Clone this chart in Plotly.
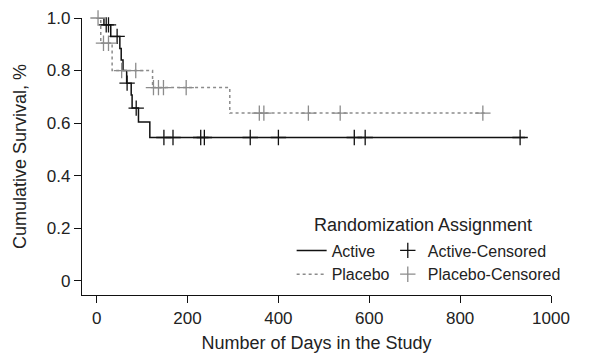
import plotly.graph_objects as go

# ---- data ----
active_event_days = [0, 16, 31, 51, 54, 58, 66, 76, 78, 92, 117]
active_event_surv = [1.0, 0.974, 0.930, 0.884, 0.840, 0.800, 0.752, 0.707, 0.657, 0.604, 0.545]
active_end_day = 943
active_cens_days = [21, 26, 45, 67, 87, 148, 168, 229, 237, 338, 400, 567, 591, 932]
active_cens_surv = [0.974, 0.974, 0.930, 0.752, 0.657, 0.545, 0.545, 0.545, 0.545, 0.545,
                    0.545, 0.545, 0.545, 0.545]

placebo_event_days = [0, 9, 34, 123, 293]
placebo_event_surv = [1.0, 0.904, 0.800, 0.735, 0.638]
placebo_end_day = 859
placebo_cens_days = [3, 15, 26, 55, 86, 125, 136, 147, 197, 358, 368, 466, 536, 850]
placebo_cens_surv = [1.0, 0.904, 0.904, 0.800, 0.800, 0.735, 0.735, 0.735, 0.735, 0.638,
                     0.638, 0.638, 0.638, 0.638]

x_ticks = [0, 200, 400, 600, 800, 1000]
y_ticks = [0, 0.2, 0.4, 0.6, 0.8, 1.0]
y_tick_labels = ["0", "0.2", "0.4", "0.6", "0.8", "1.0"]

FONT = "Liberation Sans, Arial, sans-serif"
TXT = "#222222"
GRAY = "#8c8c8c"

fig = go.Figure()

fig.add_trace(go.Scatter(
    x=active_event_days + [active_end_day],
    y=active_event_surv + [active_event_surv[-1]],
    mode="lines", line=dict(color="#111111", width=1.5, shape="hv"),
    name="Active", legend="legend", cliponaxis=False))
fig.add_trace(go.Scatter(
    x=placebo_event_days + [placebo_end_day],
    y=placebo_event_surv + [placebo_event_surv[-1]],
    mode="lines", line=dict(color=GRAY, width=1.5, dash="dot", shape="hv"),
    name="Placebo", legend="legend", cliponaxis=False))
fig.add_trace(go.Scatter(
    x=active_cens_days, y=active_cens_surv, mode="markers",
    marker=dict(symbol="cross-thin", size=11, line=dict(color="#111111", width=1.3)),
    name="Active-Censored", legend="legend2", cliponaxis=False))
fig.add_trace(go.Scatter(
    x=placebo_cens_days, y=placebo_cens_surv, mode="markers",
    marker=dict(symbol="cross-thin", size=11, line=dict(color=GRAY, width=1.3)),
    name="Placebo-Censored", legend="legend2", cliponaxis=False))

axis_common = dict(showgrid=False, zeroline=False, showline=True, linecolor="#111111",
                   linewidth=1.2, ticks="outside", ticklen=7, tickwidth=1.2,
                   tickcolor="#111111", automargin=False,
                   tickfont=dict(family=FONT, size=17, color=TXT))

# the page body has an 8px default margin, so the figure is sized to fit inside it
fig.update_layout(
    width=581, height=345,
    margin=dict(l=74, r=38, t=10, b=58),
    plot_bgcolor="white", paper_bgcolor="white",
    font=dict(family=FONT, size=17, color=TXT),
    xaxis=dict(range=[-32.3, 1000], tickvals=x_ticks, **axis_common,
               title=dict(text="Number of Days in the Study", font=dict(size=18, color=TXT),
                          standoff=12)),
    yaxis=dict(range=[-0.0545, 1.0], tickvals=y_ticks, ticktext=y_tick_labels, **axis_common,
               title=dict(text="Cumulative Survival, %", font=dict(size=18, color=TXT))),
    legend=dict(x=0.447, y=0.222, xanchor="left", yanchor="top", bgcolor="rgba(0,0,0,0)",
                font=dict(size=16, color=TXT), tracegroupgap=0, itemwidth=30),
    legend2=dict(x=0.652, y=0.222, xanchor="left", yanchor="top", bgcolor="rgba(0,0,0,0)",
                 font=dict(size=16, color=TXT), tracegroupgap=0, itemwidth=30),
    annotations=[dict(text="Randomization Assignment", x=0.4904, y=0.2527, xref="paper",
                      yref="paper", xanchor="left", yanchor="middle", showarrow=False,
                      font=dict(size=18, color=TXT))],
    showlegend=True,
)

fig.write_html("out.html")
